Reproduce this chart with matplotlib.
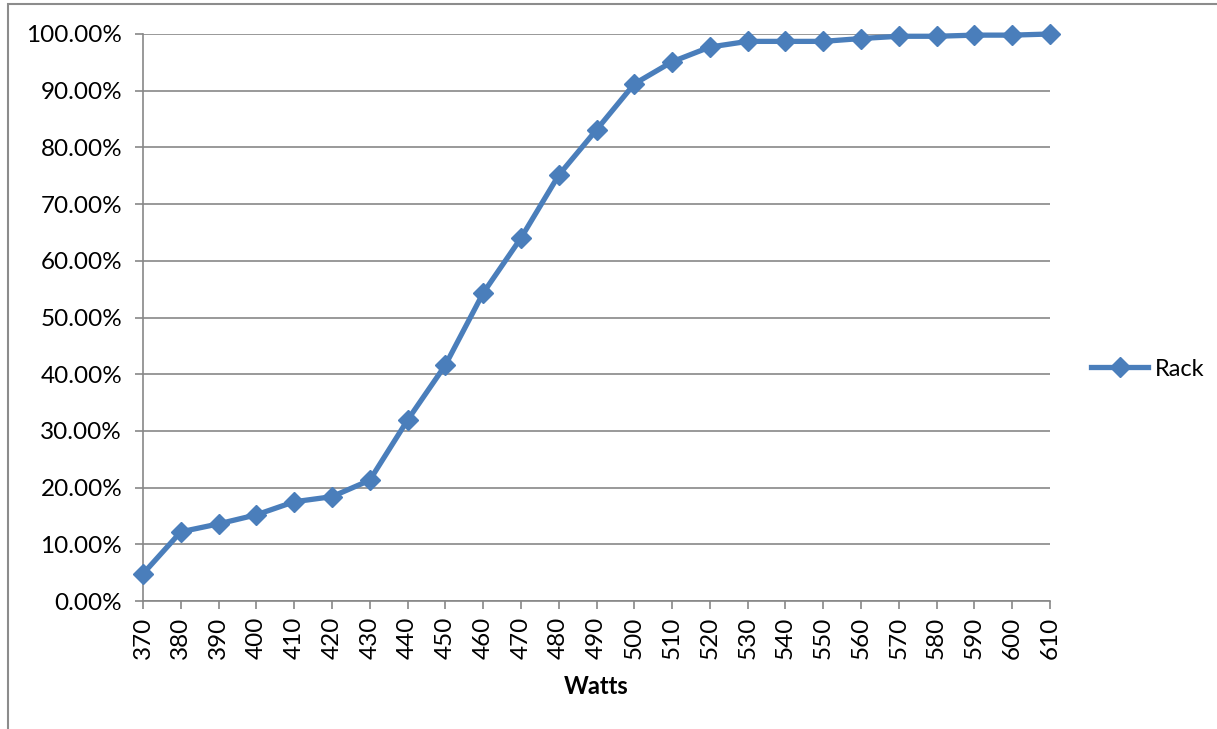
import matplotlib
matplotlib.use("Agg")
import matplotlib.pyplot as plt
from matplotlib.patches import Rectangle
from matplotlib.ticker import FuncFormatter

watts = [370, 380, 390, 400, 410, 420, 430, 440, 450, 460, 470, 480, 490,
         500, 510, 520, 530, 540, 550, 560, 570, 580, 590, 600, 610]
rack = [4.8, 12.2, 13.6, 15.2, 17.5, 18.4, 21.3, 31.9, 41.6, 54.3, 64.0, 75.1, 83.1,
        91.2, 95.1, 97.7, 98.7, 98.7, 98.7, 99.2, 99.6, 99.6, 99.8, 99.8, 100.0]

plt.rcParams['font.family'] = ['Lato', 'DejaVu Sans']

fig = plt.figure(figsize=(12.17, 7.29), dpi=100)
ax = fig.add_axes([143 / 1217, 1 - 601 / 729, (1050 - 143) / 1217, (601 - 34) / 729])

grid_c = '#878787'
blue = '#4A7EBB'

pos = list(range(len(watts)))
ax.plot(pos, rack, color=blue, linewidth=3.8, marker='D', markersize=10,
        label='Rack', zorder=3, clip_on=False)

ax.set_xlim(0, len(watts) - 1)
ax.set_ylim(0, 100)
ax.set_yticks(range(0, 101, 10))
ax.yaxis.set_major_formatter(FuncFormatter(lambda v, p: '%.2f%%' % v))
ax.set_xticks(pos)
ax.set_xticklabels([str(w) for w in watts], rotation=90)

ax.grid(axis='y', color=grid_c, linewidth=1.2)
ax.set_axisbelow(True)
for s in ['top', 'right']:
    ax.spines[s].set_visible(False)
for s in ['left', 'bottom']:
    ax.spines[s].set_color(grid_c)
    ax.spines[s].set_linewidth(1.2)
ax.tick_params(direction='out', length=6, width=1.2, color=grid_c,
               labelsize=17.5)
ax.tick_params(axis='y', pad=9)
ax.tick_params(axis='x', pad=5)

ax.set_xlabel('Watts', fontsize=17, fontweight='bold', labelpad=12)

ax.legend(loc='center left', bbox_to_anchor=(1.022, 0.409), frameon=False,
          fontsize=17, handlelength=2.4, handletextpad=0.3)

fig.patches.append(Rectangle((8 / 1217, -0.1), 1.2, 1 - 4 / 729 + 0.1,
                             transform=fig.transFigure, fill=False,
                             edgecolor='#8c8c8c', linewidth=1.5))

fig.savefig('out.png', dpi=100)
